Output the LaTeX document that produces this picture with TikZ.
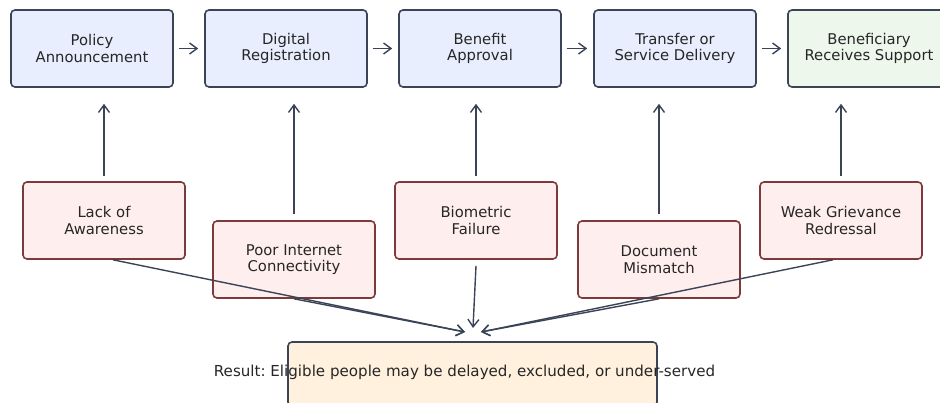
\documentclass[tikz,border=0pt]{standalone}
\usepackage{fontspec}
\setmainfont{DejaVu Sans}
\frenchspacing
\usetikzlibrary{arrows.meta}

\definecolor{ink}{HTML}{3A4456}
\definecolor{stepfill}{HTML}{E8EEFD}
\definecolor{endfill}{HTML}{EDF7EC}
\definecolor{barfill}{HTML}{FFEEEE}
\definecolor{barline}{HTML}{7D3A3A}
\definecolor{resfill}{HTML}{FFF1DD}

\tikzset{
  box/.style={rounded corners=4pt, line width=1.6pt, minimum width=162pt,
    minimum height=77pt, align=center, text=black!85,
    font=\fontsize{14.8}{16.7}\selectfont},
  stage/.style={box, draw=ink, fill=stepfill},
  barrier/.style={box, draw=barline, fill=barfill},
  flow/.style={-{Straight Barb[length=7.5pt,width=11pt]}, line width=1.4pt, draw=ink}
}

\begin{document}
\begin{tikzpicture}[x=1pt,y=1pt]
  \useasboundingbox (0,0) rectangle (940,-403);
  \clip (0,0) rectangle (940,-403);

  % delivery chain
  \node[stage] (pol) at (92,-48.5) {Policy\\Announcement};
  \node[stage] (reg) at (286,-48.5) {Digital\\Registration};
  \node[stage] (app) at (480,-48.5) {Benefit\\Approval};
  \node[stage] (del) at (675,-48.5) {Transfer or\\Service Delivery};
  \node[stage, fill=endfill] (ben) at (869,-48.5) {Beneficiary\\Receives Support};

  \draw[flow, shorten <=5pt, shorten >=6pt] (pol.east) -- (reg.west);
  \draw[flow, shorten <=5pt, shorten >=6pt] (reg.east) -- (app.west);
  \draw[flow, shorten <=5pt, shorten >=6pt] (app.east) -- (del.west);
  \draw[flow, shorten <=5pt, shorten >=6pt] (del.east) -- (ben.west);

  % barriers
  \node[barrier] (aware) at (104,-220.5) {Lack of\\Awareness};
  \node[barrier] (net) at (294,-259.5) {Poor Internet\\Connectivity};
  \node[barrier] (bio) at (476,-220.5) {Biometric\\Failure};
  \node[barrier] (doc) at (659,-259.5) {Document\\Mismatch};
  \node[barrier] (griev) at (841,-220.5) {Weak Grievance\\Redressal};

  \draw[flow, shorten <=5pt, shorten >=16pt] (aware.north) -- (aware.north |- pol.south);
  \draw[flow, shorten <=6pt, shorten >=16pt] (net.north) -- (net.north |- reg.south);
  \draw[flow, shorten <=5pt, shorten >=16pt] (bio.north) -- (bio.north |- app.south);
  \draw[flow, shorten <=6pt, shorten >=16pt] (doc.north) -- (doc.north |- del.south);
  \draw[flow, shorten <=5pt, shorten >=16pt] (griev.north) -- (griev.north |- ben.south);

  % result
  \node[box, draw=ink, fill=resfill, minimum width=369pt, minimum height=64pt] (res) at (472.5,-374) {};
  \node[font=\fontsize{15.1}{16.7}\selectfont, text=black!85] (restext) at (464.5,-372)
    {Result: Eligible people may be delayed, excluded, or under-served};

  \coordinate (inL) at (465,-332);
  \coordinate (inM) at (473,-328);
  \coordinate (inR) at (481,-332);
  \draw[flow] ([xshift=9pt]aware.south) -- (inL);
  \draw[flow] (net.south) -- (inL);
  \draw[flow] ([yshift=-6pt]bio.south) -- (inM);
  \draw[flow] (doc.south) -- (inR);
  \draw[flow] ([xshift=-8pt]griev.south) -- (inR);
\end{tikzpicture}
\end{document}
